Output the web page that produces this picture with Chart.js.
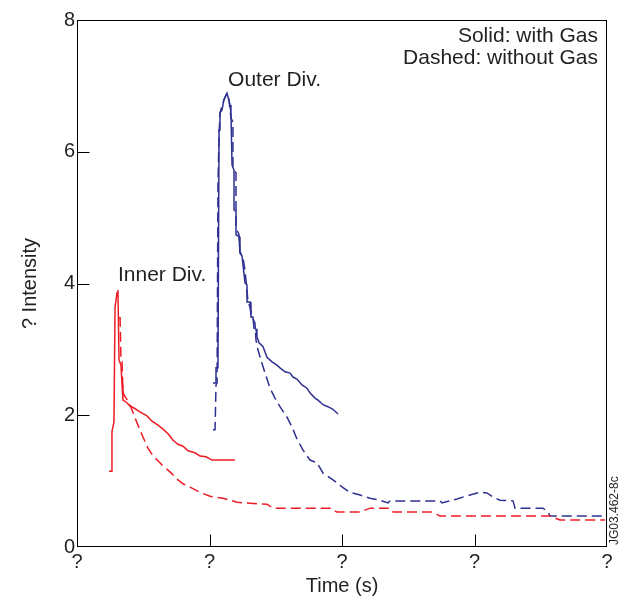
<!DOCTYPE html>
<html><head><meta charset="utf-8">
<script src="https://cdn.jsdelivr.net/npm/chart.js@4.4.0/dist/chart.umd.min.js"></script>
<style>html,body{margin:0;padding:0;background:#fff;}canvas{display:block;}</style>
</head><body>
<canvas id="c" width="622" height="601"></canvas>
<script>
// ---- axis ticks ----
const xTicks = [0, 1, 2, 3, 4];
const xTickLabels = ['?', '?', '?', '?', '?'];
const yTicks = [0, 2, 4, 6, 8];

// ---- Inner divertor, with gas (solid red) ----
const innerGasX = [0.242,0.264,0.264,0.279,0.287,0.302,0.309,0.317,0.332,0.340,0.347,0.377,0.400,0.430,0.475,0.528,0.566,0.611,0.649,0.687,0.725,0.762,0.800,0.838,0.891,0.928,0.974,1.019,1.192];
const innerGasY = [1.15,1.15,1.75,1.90,3.64,3.86,3.90,2.84,2.76,2.46,2.23,2.19,2.14,2.11,2.05,1.99,1.91,1.85,1.79,1.72,1.62,1.56,1.53,1.46,1.43,1.38,1.37,1.32,1.32];

// ---- Inner divertor, without gas (dashed red) ----
const innerNoGasX = [0.317,0.325,0.332,0.340,0.347,0.370,0.400,0.430,0.460,0.498,0.536,0.574,0.611,0.649,0.702,0.755,0.800,0.853,0.928,1.004,1.102,1.208,1.253,1.434,1.479,1.909,1.962,2.136,2.211,2.362,2.385,2.687,2.740,3.570,3.645,3.985];
const innerNoGasY = [3.48,3.48,2.84,2.81,2.34,2.26,2.16,2.00,1.85,1.67,1.50,1.38,1.31,1.23,1.14,1.03,0.96,0.91,0.83,0.77,0.74,0.68,0.67,0.65,0.59,0.59,0.53,0.53,0.59,0.59,0.53,0.53,0.47,0.47,0.41,0.41];

// ---- Outer divertor, with gas (solid blue) ----
const outerGasX = [1.026,1.042,1.049,1.064,1.072,1.079,1.094,1.109,1.132,1.140,1.155,1.162,1.170,1.185,1.185,1.200,1.200,1.223,1.230,1.245,1.253,1.268,1.283,1.283,1.306,1.313,1.328,1.336,1.351,1.358,1.374,1.404,1.434,1.472,1.509,1.532,1.570,1.608,1.630,1.660,1.698,1.736,1.758,1.796,1.819,1.857,1.894,1.932,1.970];
const outerGasY = [2.49,2.49,2.72,2.72,6.33,6.59,6.63,6.79,6.89,6.83,6.71,6.59,5.80,5.72,5.12,5.09,4.74,4.71,4.46,4.42,4.28,4.01,3.98,3.72,3.72,3.49,3.49,3.32,3.31,3.19,3.10,3.04,2.88,2.81,2.76,2.72,2.66,2.64,2.58,2.55,2.46,2.41,2.34,2.26,2.23,2.16,2.13,2.09,2.02];

// ---- Outer divertor, without gas (dashed blue) ----
const outerNoGasX = [1.026,1.042,1.049,1.057,1.064,1.072,1.079,1.109,1.132,1.147,1.162,1.177,1.177,1.200,1.200,1.223,1.230,1.253,1.268,1.291,1.306,1.321,1.343,1.351,1.366,1.396,1.419,1.457,1.494,1.532,1.585,1.623,1.660,1.706,1.758,1.811,1.857,1.932,2.008,2.060,2.136,2.211,2.287,2.347,2.362,2.740,2.755,2.868,2.966,3.042,3.094,3.140,3.192,3.291,3.306,3.517,3.555,3.570,4.000];
const outerNoGasY = [1.78,1.78,2.46,2.49,5.50,6.25,6.59,6.79,6.89,6.79,6.51,6.45,5.75,5.68,4.84,4.74,4.48,4.39,4.20,3.72,3.64,3.49,3.40,3.14,2.99,2.79,2.64,2.41,2.26,2.13,1.97,1.82,1.64,1.47,1.32,1.28,1.12,1.02,0.90,0.83,0.79,0.74,0.71,0.67,0.70,0.70,0.67,0.73,0.79,0.83,0.82,0.76,0.71,0.70,0.59,0.59,0.53,0.47,0.47];

const RED = '#ed1c24';
const BLUE = '#2e3192';
const TXT = '#231f20';
const FAM = '"Liberation Sans", Arial, Helvetica, sans-serif';

function pts(xs, ys) { return xs.map((x, i) => ({x: x, y: ys[i]})); }

const decor = {
  id: 'decor',
  afterDraw(chart) {
    const {ctx, chartArea: a, scales: {x, y}} = chart;
    ctx.save();
    ctx.strokeStyle = '#000';
    ctx.lineWidth = 1;
    const L = Math.round(a.left) + 0.5, R = Math.round(a.right) - 0.5;
    const T = Math.round(a.top) + 0.5, B = Math.round(a.bottom) - 0.5;
    ctx.strokeRect(L, T, R - L, B - T);
    ctx.beginPath();
    xTicks.slice(1, -1).forEach(v => {
      const px = Math.round(x.getPixelForValue(v)) + 0.5;
      ctx.moveTo(px, B); ctx.lineTo(px, B - 12);
    });
    yTicks.slice(1, -1).forEach(v => {
      const py = Math.round(y.getPixelForValue(v)) + 0.5;
      ctx.moveTo(L, py); ctx.lineTo(L + 12, py);
    });
    ctx.stroke();

    ctx.fillStyle = TXT;
    ctx.font = '21px ' + FAM;
    ctx.textBaseline = 'alphabetic';
    ctx.textAlign = 'left';
    ctx.fillText('Inner Div.', x.getPixelForValue(0.309), y.getPixelForValue(4.04));
    ctx.fillText('Outer Div.', x.getPixelForValue(1.14), y.getPixelForValue(7.0));
    ctx.textAlign = 'right';
    ctx.fillText('Solid: with Gas', x.getPixelForValue(3.932), y.getPixelForValue(7.67));
    ctx.fillText('Dashed: without Gas', x.getPixelForValue(3.932), y.getPixelForValue(7.33));

    ctx.font = '12px ' + FAM;
    ctx.translate(a.right + 8, a.bottom - 2);
    ctx.rotate(-Math.PI / 2);
    ctx.textAlign = 'left';
    ctx.textBaseline = 'middle';
    ctx.fillText('JG03.462-8c', 0, 0);
    ctx.restore();
  }
};

new Chart(document.getElementById('c'), {
  type: 'line',
  data: {
    datasets: [
      {label: 'Inner, without gas', data: pts(innerNoGasX, innerNoGasY), borderColor: RED, borderDash: [10, 5], borderWidth: 1.5},
      {label: 'Outer, without gas', data: pts(outerNoGasX, outerNoGasY), borderColor: BLUE, borderDash: [10, 5], borderWidth: 1.5},
      {label: 'Inner, with gas', data: pts(innerGasX, innerGasY), borderColor: RED, borderWidth: 1.5},
      {label: 'Outer, with gas', data: pts(outerGasX, outerGasY), borderColor: BLUE, borderWidth: 1.5}
    ]
  },
  options: {
    responsive: false,
    animation: false,
    devicePixelRatio: 1,
    elements: {point: {radius: 0, hoverRadius: 0}, line: {tension: 0, fill: false, borderCapStyle: 'butt'}},
    layout: {padding: {left: 0, right: 15, top: 20, bottom: 0}},
    plugins: {legend: {display: false}, tooltip: {enabled: false}},
    events: [],
    scales: {
      x: {
        type: 'linear', min: 0, max: 4,
        afterBuildTicks: s => { s.ticks = xTicks.map(v => ({value: v})); },
        ticks: {autoSkip: false, maxRotation: 0, padding: 3, color: TXT, font: {size: 20, family: FAM},
          callback: (v, i) => xTickLabels[i]},
        grid: {display: false, drawTicks: false},
        border: {display: false},
        title: {display: true, text: 'Time (s)', color: TXT, font: {size: 20, family: FAM}, padding: {top: 0, bottom: 3}},
        afterFit: s => { s.height = 54; }
      },
      y: {
        type: 'linear', min: 0, max: 8,
        afterBuildTicks: s => { s.ticks = yTicks.map(v => ({value: v})); },
        ticks: {padding: 2, color: TXT, font: {size: 20, family: FAM}, callback: v => String(v)},
        grid: {display: false, drawTicks: false},
        border: {display: false},
        title: {display: true, text: '? Intensity', color: TXT, font: {size: 20, family: FAM}, padding: {top: 18, bottom: 0}},
        afterFit: s => { s.width = 77; }
      }
    }
  },
  plugins: [decor]
});
</script>
</body></html>
